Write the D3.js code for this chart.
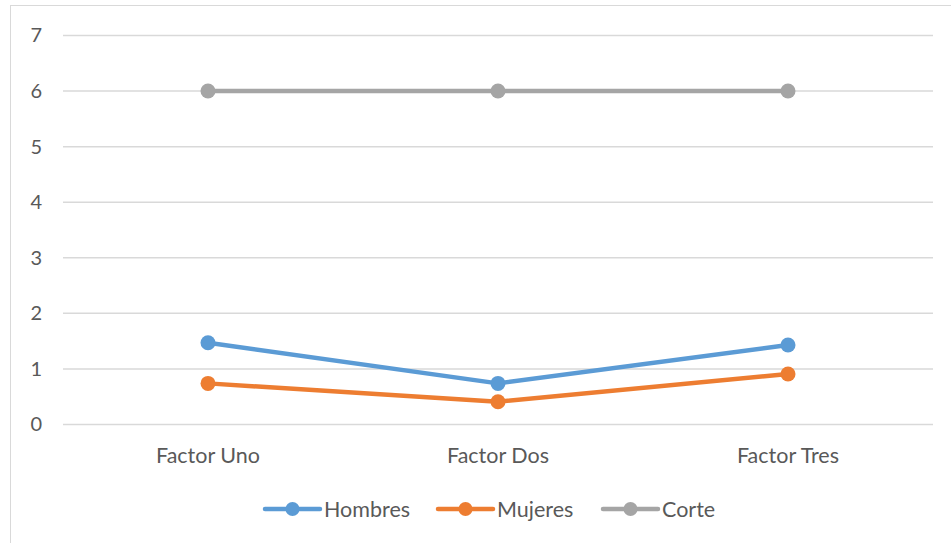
<!DOCTYPE html>
<html>
<head>
<meta charset="utf-8">
<script src="https://cdn.jsdelivr.net/npm/d3@7"></script>
<style>
  html, body { margin: 0; padding: 0; background: #fff; }
  svg { display: block; }
  text { font-family: Lato, "Open Sans", sans-serif; fill: #595959; }
</style>
</head>
<body>
<svg id="chart" width="951" height="543"></svg>
<script>
// Categories and series values
const categories = ["Factor Uno", "Factor Dos", "Factor Tres"];
const hombres = [1.47, 0.74, 1.43];
const mujeres = [0.74, 0.41, 0.91];
const corte = [6, 6, 6];
const yTicks = [0, 1, 2, 3, 4, 5, 6, 7];

const seriesNames = ["Hombres", "Mujeres", "Corte"];
const seriesColors = ["#5B9BD5", "#ED7D31", "#A5A5A5"];
const series = [hombres, mujeres, corte].map((values, i) => ({
  name: seriesNames[i],
  color: seriesColors[i],
  values
}));

const svg = d3.select("#chart");

// Chart area frame
svg.append("rect")
  .attr("x", 10.5).attr("y", 5.5)
  .attr("width", 960).attr("height", 560)
  .attr("fill", "#fff")
  .attr("stroke", "#D9D9D9")
  .attr("stroke-width", 1);

const plot = { left: 63, right: 933, top: 35.5, bottom: 424.5 };

const x = d3.scaleBand()
  .domain(categories)
  .range([plot.left, plot.right]);

const y = d3.scaleLinear()
  .domain([0, 7])
  .range([plot.bottom, plot.top]);

// Horizontal gridlines
svg.append("g")
  .selectAll("line")
  .data(yTicks)
  .join("line")
  .attr("x1", plot.left).attr("x2", plot.right)
  .attr("y1", d => y(d)).attr("y2", d => y(d))
  .attr("stroke", "#D9D9D9")
  .attr("stroke-width", 1.5);

// Y axis labels
const yAxis = d3.axisLeft(y).tickValues(yTicks).tickFormat(d3.format("d")).tickSize(0).tickPadding(0);
svg.append("g")
  .attr("transform", `translate(${plot.left - 21},0)`)
  .call(yAxis)
  .call(g => g.select(".domain").remove())
  .call(g => g.selectAll("text")
    .attr("font-size", 20)
    .attr("fill", "#595959")
    .attr("font-family", "Lato, sans-serif")
    .attr("text-anchor", "end"));

// X axis labels
const xAxis = d3.axisBottom(x).tickSize(0).tickPadding(0);
svg.append("g")
  .attr("transform", `translate(0,${plot.bottom + 23})`)
  .call(xAxis)
  .call(g => g.select(".domain").remove())
  .call(g => g.selectAll("text")
    .attr("font-size", 21.5)
    .attr("fill", "#595959")
    .attr("font-family", "Lato, sans-serif"));

const cx = c => x(c) + x.bandwidth() / 2;

const line = d3.line()
  .x((d, i) => cx(categories[i]))
  .y(d => y(d));

// Series lines and markers
const sg = svg.append("g")
  .selectAll("g")
  .data(series)
  .join("g");

sg.append("path")
  .attr("d", d => line(d.values))
  .attr("fill", "none")
  .attr("stroke", d => d.color)
  .attr("stroke-width", 4.5)
  .attr("stroke-linejoin", "round")
  .attr("stroke-linecap", "round");

sg.selectAll("circle")
  .data(d => d.values.map((v, i) => ({ v, i, color: d.color })))
  .join("circle")
  .attr("cx", d => cx(categories[d.i]))
  .attr("cy", d => y(d.v))
  .attr("r", 7.5)
  .attr("fill", d => d.color);

// Legend
const legendX = [265, 438, 603];
const legend = svg.append("g")
  .selectAll("g")
  .data(series)
  .join("g")
  .attr("transform", (d, i) => `translate(${legendX[i]},509)`);

legend.append("line")
  .attr("x1", 0).attr("x2", 55)
  .attr("y1", 0).attr("y2", 0)
  .attr("stroke", d => d.color)
  .attr("stroke-width", 4.5)
  .attr("stroke-linecap", "round");

legend.append("circle")
  .attr("cx", 27.5).attr("cy", 0)
  .attr("r", 7)
  .attr("fill", d => d.color);

legend.append("text")
  .attr("x", 59).attr("y", 0)
  .attr("dy", "0.35em")
  .attr("font-size", 21.5)
  .text(d => d.name);
</script>
</body>
</html>
